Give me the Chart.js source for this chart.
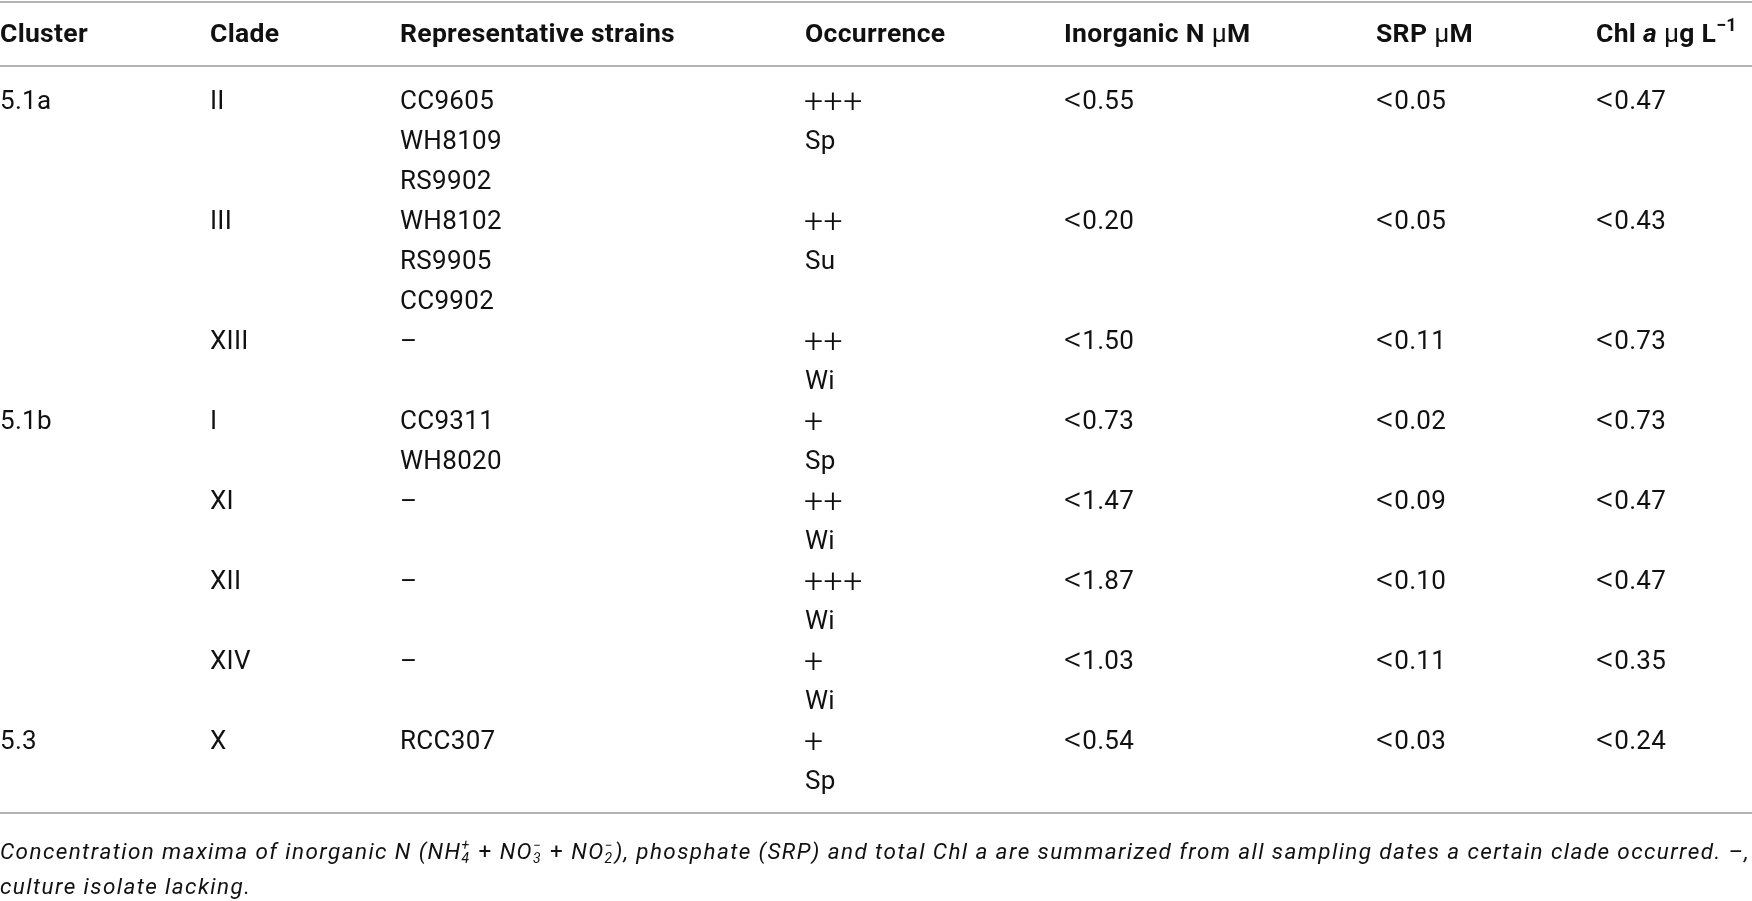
<!DOCTYPE html>
<html><head><meta charset="utf-8">
<script src="https://cdn.jsdelivr.net/npm/chart.js@4.4.0/dist/chart.umd.min.js"></script>
<style>html,body{margin:0;padding:0;background:#fff;overflow:hidden}#wrap{width:1752px;height:901px}</style>
</head><body><div id="wrap"><canvas id="c" width="1752" height="901"></canvas></div>
<script>
// ---------- data ----------
const headers = ['Cluster', 'Clade', 'Representative strains', 'Occurrence', 'Inorganic N μM', 'SRP μM', 'Chl a μg L−1'];
const clusters = ['5.1a', '', '', '5.1b', '', '', '', '5.3'];
const clades = ['II', 'III', 'XIII', 'I', 'XI', 'XII', 'XIV', 'X'];
const strains = [['CC9605', 'WH8109', 'RS9902'], ['WH8102', 'RS9905', 'CC9902'], ['–'], ['CC9311', 'WH8020'], ['–'], ['–'], ['–'], ['RCC307']];
const abundance = ['+++', '++', '++', '+', '++', '+++', '+', '+'];
const season = ['Sp', 'Su', 'Wi', 'Sp', 'Wi', 'Wi', 'Wi', 'Sp'];
const inorganicN = [0.55, 0.20, 1.50, 0.73, 1.47, 1.87, 1.03, 0.54];
const srp = [0.05, 0.05, 0.11, 0.02, 0.09, 0.10, 0.11, 0.03];
const chlA = [0.47, 0.43, 0.73, 0.73, 0.47, 0.47, 0.35, 0.24];
const footnoteLine1 = 'Concentration maxima of inorganic N (NH4+ + NO3− + NO2−), phosphate (SRP) and total Chl a are summarized from all sampling dates a certain clade occurred. –,';
const footnoteLine2 = 'culture isolate lacking.';

// ---------- layout / style ----------
const FONT = 'Roboto, "Liberation Sans", sans-serif';
const colX = [0, 210, 400, 805, 1064, 1376, 1596];
const BODY = 26, HEAD = 26.5, FOOT = 22.5;
const HEADER_ROW = -1.675, FOOT_ROWS = [18.775, 19.64];
const RULES = [{y: -2.45, w: 2.2, c: '#b4b4b4'}, {y: -0.85, w: 2.2, c: '#b4b4b4'}, {y: 17.825, w: 1.6, c: '#9a9a9a'}];
const FOOT_TARGET_W = 1750;

function headerSegs(h) {
  if (h === 'Inorganic N μM') return [{t: 'Inorganic N '}, {t: 'μ', w: '400'}, {t: 'M'}];
  if (h === 'SRP μM') return [{t: 'SRP '}, {t: 'μ', w: '400'}, {t: 'M'}];
  if (h === 'Chl a μg L−1') return [{t: 'Chl '}, {t: 'a', i: true}, {t: ' '}, {t: 'μ', w: '400'}, {t: 'g L'}, {t: '−1', sup: true}];
  return [{t: h}];
}
function footSegs1() {
  const s = footnoteLine1;
  const a = s.indexOf('(NH4+');
  const b = s.indexOf('), phosphate');
  return [
    {t: s.slice(0, a + 3)}, {t: '4', sub: true, sup2: '+'},
    {t: ' + ', i: false}, {t: 'NO'}, {t: '3', sub: true, sup2: '−'},
    {t: ' + ', i: false}, {t: 'NO'}, {t: '2', sub: true, sup2: '−'},
    {t: s.slice(b)}
  ];
}
function bodySegs(label) {
  if (label[0] === '<') return [{t: '<', size: 1.35, w: '300', dy: 2, gap: 0}, {t: label.slice(1)}];
  return [{t: label}];
}

// ---------- build datasets from the arrays ----------
const cells = [];
let row = 0;
clades.forEach((cl, k) => {
  const n = Math.max(strains[k].length, 2);
  if (clusters[k]) cells.push({x: colX[0], y: row, label: clusters[k]});
  cells.push({x: colX[1], y: row, label: cl});
  strains[k].forEach((s, j) => cells.push({x: colX[2], y: row + j, label: s}));
  cells.push({x: colX[3], y: row, label: abundance[k], plus: true});
  cells.push({x: colX[3], y: row + 1, label: season[k]});
  cells.push({x: colX[4], y: row, label: '<' + inorganicN[k].toFixed(2)});
  cells.push({x: colX[5], y: row, label: '<' + srp[k].toFixed(2)});
  cells.push({x: colX[6], y: row, label: '<' + chlA[k].toFixed(2)});
  row += n;
});
const headCells = headers.map((h, i) => ({x: colX[i], y: HEADER_ROW, label: h}));
const footCells = [{x: 0, y: FOOT_ROWS[0], label: footnoteLine1}, {x: 0, y: FOOT_ROWS[1], label: footnoteLine2}];

const datasets = [
  {kind: 'body', data: cells, pointRadius: 0, showLine: false},
  {kind: 'head', data: headCells, pointRadius: 0, showLine: false},
  {kind: 'foot', data: footCells, pointRadius: 0, showLine: false},
  ...RULES.map(r => ({kind: 'rule', data: [{x: 0, y: r.y}, {x: 1752, y: r.y}], showLine: true,
    borderColor: r.c, borderWidth: r.w, pointRadius: 0, fill: false}))
];

function font(size, weight, italic) {
  return (italic ? 'italic ' : '') + weight + ' ' + size + 'px ' + FONT;
}
// draws (or just measures, if dry) a list of styled segments; ls = extra px per character
function drawSegs(ctx, segs, x, base, size, weight, italic, ls, dry) {
  const x0 = x;
  for (const s of segs) {
    const it = s.i === undefined ? italic : s.i;
    const w = s.w || weight;
    if (s.sup) {
      ctx.font = font(size * 0.68, w, it);
      if (!dry) ctx.fillText(s.t, x, base - size * 0.42);
      x += ctx.measureText(s.t).width + ls * s.t.length;
    } else if (s.sub) {
      ctx.font = font(size * 0.62, w, it);
      const w1 = ctx.measureText(s.t).width;
      const w2 = ctx.measureText(s.sup2).width;
      if (!dry) {
        ctx.fillText(s.t, x, base + size * 0.2);
        ctx.fillText(s.sup2, x, base - size * 0.38);
      }
      x += Math.max(w1, w2) + 1 + ls;
    } else {
      ctx.font = font(size * (s.size || 1), w, it);
      for (const ch of s.t) {
        if (!dry) ctx.fillText(ch, x, base + (s.dy || 0));
        x += ctx.measureText(ch).width + ls + (s.gap || 0);
      }
    }
  }
  return x - x0;
}
function countChars(segs) {
  return segs.reduce((n, s) => n + (s.sub ? 1 : s.t.length), 0);
}

const textPlugin = {
  id: 'tableText',
  afterDatasetsDraw(chart) {
    const ctx = chart.ctx;
    ctx.save();
    ctx.fillStyle = '#111';
    ctx.textBaseline = 'alphabetic';
    ctx.textAlign = 'left';
    const fs1 = footSegs1();
    const natural = drawSegs(ctx, fs1, 0, 0, FOOT, '400', true, 0, true);
    const footLS = Math.max(0, (FOOT_TARGET_W - natural) / countChars(fs1));
    chart.data.datasets.forEach((ds, di) => {
      if (ds.kind === 'rule') return;
      const meta = chart.getDatasetMeta(di);
      meta.data.forEach((pt, i) => {
        const cell = ds.data[i];
        const label = cell.label;
        if (ds.kind === 'body') {
          if (cell.plus) {
            drawSegs(ctx, [{t: label}], pt.x - 1, pt.y + BODY * 0.711 / 2 + 3, BODY * 1.3, '300', false, 0.5, false);
          } else {
            drawSegs(ctx, bodySegs(label), pt.x, pt.y + BODY * 0.711 / 2, BODY, '400', false, 0.3, false);
          }
        } else if (ds.kind === 'head') {
          drawSegs(ctx, headerSegs(label), pt.x, pt.y + HEAD * 0.711 / 2, HEAD, '700', false, 0.3, false);
        } else if (ds.kind === 'foot') {
          const segs = label === footnoteLine1 ? fs1 : [{t: label}];
          drawSegs(ctx, segs, pt.x, pt.y + FOOT * 0.711 / 2, FOOT, '400', true, footLS, false);
        }
      });
    });
    ctx.restore();
  }
};

new Chart(document.getElementById('c'), {
  type: 'scatter',
  data: {datasets},
  options: {
    responsive: false,
    animation: false,
    devicePixelRatio: 1,
    layout: {padding: 0},
    plugins: {legend: {display: false}, tooltip: {enabled: false}},
    scales: {
      x: {type: 'linear', min: 0, max: 1752, display: false},
      y: {type: 'linear', min: -2.5, max: 20.025, reverse: true, display: false}
    }
  },
  plugins: [textPlugin]
});
</script>
</body></html>
